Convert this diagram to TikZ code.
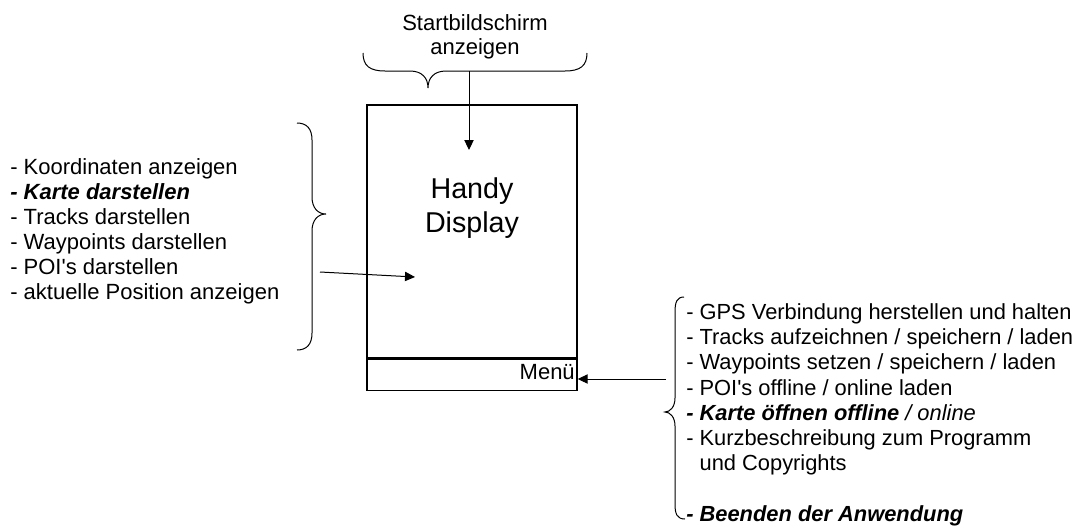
\documentclass[tikz,border=0pt]{standalone}
\usepackage{fontspec}
\setmainfont{Liberation Sans}[Ligatures=TeXOff]
\usetikzlibrary{arrows.meta}
\begin{document}
\begin{tikzpicture}[x=0.75pt,y=-0.75pt,
  lbl/.style={font=\fontsize{16.5pt}{18.75pt}\selectfont, inner sep=0pt, align=left},
  big/.style={font=\fontsize{21.5pt}{25.5pt}\selectfont, inner sep=0pt, align=center},
  frame/.style={draw, line width=1.1pt, inner sep=0pt, minimum width=157.5pt},
  bracepath/.style={line width=0.75pt},
  arr/.style={line width=0.75pt, -{Triangle[length=7.5pt,width=7pt]}}]
\useasboundingbox (0,0) rectangle (1082,526);

% phone screen with the menu bar underneath
\node[frame, minimum height=189.75pt] (display) at (472,231.5) {};
\node[frame, minimum height=23.25pt, anchor=north] (menu) at (display.south) {};
\node[big, anchor=base] (title) at (472,232) {Handy\\Display};
\node[lbl, anchor=base east] (menutext) at (575,379) {Menü};

% start screen label and its brace (base anchor = last line)
\node[lbl, align=center, font=\fontsize{16.5pt}{18pt}\selectfont, anchor=base] (start) at (475,54) {Startbildschirm\\anzeigen};
\draw[bracepath] (363,53) .. controls (363,66) and (370,71) .. (385,71) -- (410,71)
  .. controls (422,71) and (428,78) .. (428,88)
  .. controls (428,78) and (434,71) .. (446,71) -- (565,71)
  .. controls (580,71) and (587,66) .. (587,53);
\coordinate (startfoot) at (469,71);
\coordinate (startend) at (469,150);
\draw[arr] (startfoot) -- (startend);

% display functions on the left
\node[lbl, anchor=base west] (showlist) at (10,299) {- Koordinaten anzeigen\\
\textbf{\textit{- Karte darstellen}}\\
- Tracks darstellen\\
- Waypoints darstellen\\
- POI's darstellen\\
- aktuelle Position anzeigen};
\draw[bracepath] (297,123) .. controls (307,123) and (312,129) .. (312,140) -- (312,197)
  .. controls (312,208) and (318,214) .. (326,214)
  .. controls (318,214) and (312,220) .. (312,231) -- (312,333)
  .. controls (312,344) and (307,350) .. (297,350);
\coordinate (showfoot) at (320,272);
\coordinate (showend) at (415,277);
\draw[arr] (showfoot) -- (showend);

% menu entries on the right
\node[lbl, anchor=base west, font=\fontsize{16.4pt}{18.9pt}\selectfont] (menulist) at (686,521) {- GPS Verbindung herstellen und halten\\
- Tracks aufzeichnen / speichern / laden\\
- Waypoints setzen / speichern / laden\\
- POI's offline / online laden\\
\textbf{\textit{- Karte öffnen offline}} \textit{/ online}\\
- Kurzbeschreibung zum Programm\\
\phantom{- }und Copyrights\\
\\
\textbf{\textit{- Beenden der Anwendung}}};
\draw[bracepath] (684,297) .. controls (677,297) and (675,302) .. (675,312) -- (675,398)
  .. controls (675,407) and (670,412) .. (665,412)
  .. controls (670,412) and (675,417) .. (675,426) -- (675,504)
  .. controls (675,514) and (677,519) .. (685,519);
\coordinate (menufoot) at (666,379);
\draw[arr] (menufoot) -- (menufoot -| menu.east);
\end{tikzpicture}
\end{document}
